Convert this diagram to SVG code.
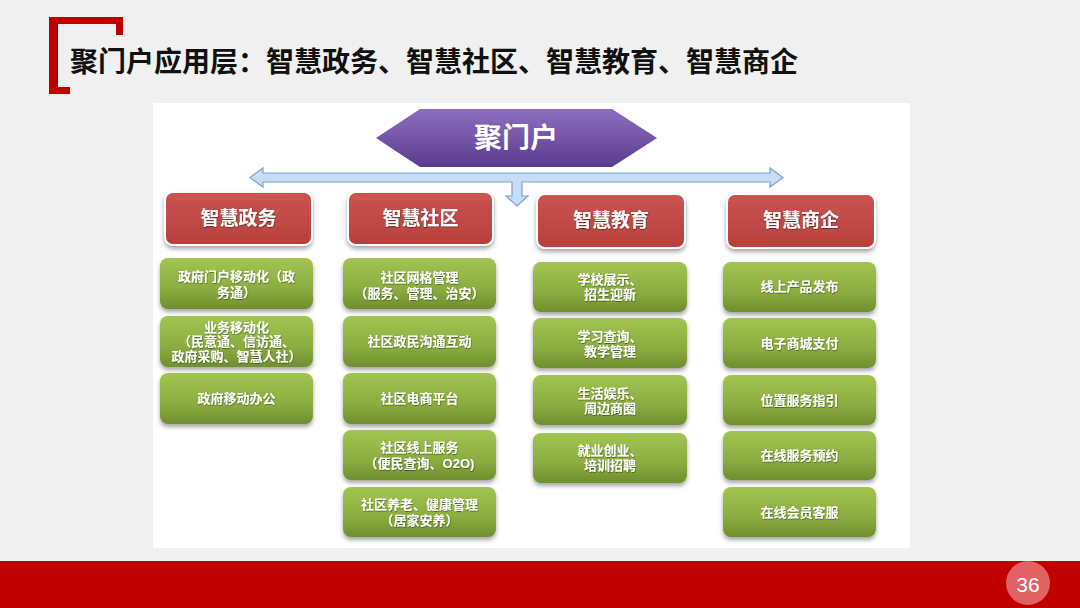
<svg xmlns="http://www.w3.org/2000/svg" width="1080" height="608" viewBox="0 0 1080 608">
<defs>
<linearGradient id="gRed" x1="0" y1="0" x2="0" y2="1"><stop offset="0" stop-color="#cb5450"/><stop offset="1" stop-color="#b73f3c"/></linearGradient>
<linearGradient id="gGreen" x1="0" y1="0" x2="0" y2="1"><stop offset="0" stop-color="#a2c452"/><stop offset="0.6" stop-color="#8bad40"/><stop offset="1" stop-color="#6f8e2e"/></linearGradient>
<linearGradient id="gPurple" x1="0" y1="0" x2="0" y2="1"><stop offset="0" stop-color="#8d6fc0"/><stop offset="1" stop-color="#5a3a8c"/></linearGradient>
<filter id="sh" x="-10%" y="-10%" width="120%" height="140%"><feDropShadow dx="0" dy="3" stdDeviation="2" flood-color="#000" flood-opacity="0.35"/></filter>
<filter id="ts" x="-5%" y="-20%" width="110%" height="150%"><feDropShadow dx="0.5" dy="0.8" stdDeviation="0.6" flood-color="#000" flood-opacity="0.45"/></filter>
</defs>
<style>
text{font-family:"Liberation Sans","Noto Sans CJK SC",sans-serif;text-anchor:middle;dominant-baseline:central;}
.title{font-size:28px;font-weight:bold;fill:#111;text-anchor:start;}
.red{fill:url(#gRed);stroke:#ffffff;stroke-width:2;filter:url(#sh);}
.grn{fill:url(#gGreen);filter:url(#sh);}
.rt{font-size:19px;font-weight:bold;fill:#fff;filter:url(#ts);}
.gt{font-size:13px;font-weight:bold;fill:#fff;filter:url(#ts);}
.ht{font-size:28px;font-weight:bold;fill:#fff;}
</style>
<rect x="0" y="0" width="1080" height="608" fill="#f0f0f0"/>
<rect x="153" y="103" width="757" height="445" fill="#ffffff"/>
<g id="header">
<path d="M49,17 H123 V35 H116 V24 H58 V87 H70 V94 H49 Z" fill="#c00000"/>
<text class="title" x="70" y="62">聚门户应用层：智慧政务、智慧社区、智慧教育、智慧商企</text>
</g>
<g id="footer">
<rect x="0" y="561" width="1080" height="47" fill="#c00000"/>
<circle cx="1028" cy="583" r="22" fill="#e06262"/>
<text x="1028" y="584" font-size="21" fill="#fff">36</text>
</g>
<g id="connectors">
<path d="M250,177.5 L263,168 L263,173 L770,173 L770,168 L783,177.5 L770,187 L770,182 L522,182 L522,196 L528,196 L517,206 L506,196 L512,196 L512,182 L263,182 L263,187 Z" fill="#c9dcf3" stroke="#7da2d6" stroke-width="1.2"/>
</g>
<g id="root">
<polygon points="376,138 420,109 612,109 657,138 612,167 420,167" fill="url(#gPurple)"/>
<text class="ht" x="516" y="138">聚门户</text>
</g>
<g id="cat-zhengwu"><rect class="red" x="165" y="192" width="147" height="53" rx="8"/><text class="rt" x="238.5" y="218">智慧政务</text></g>
<g id="cat-shequ"><rect class="red" x="348" y="192" width="145" height="53" rx="8"/><text class="rt" x="420.5" y="218">智慧社区</text></g>
<g id="cat-jiaoyu"><rect class="red" x="537" y="194" width="148" height="54" rx="8"/><text class="rt" x="611" y="220">智慧教育</text></g>
<g id="cat-shangqi"><rect class="red" x="727" y="194" width="148" height="54" rx="8"/><text class="rt" x="801" y="220">智慧商企</text></g>

<g id="zw1"><rect class="grn" x="160" y="258" width="153" height="51" rx="8"/><text class="gt" x="236.5" y="276">政府门户移动化（政</text><text class="gt" x="236.5" y="292">务通）</text></g>
<g id="zw2"><rect class="grn" x="160" y="316" width="153" height="51" rx="8"/><text class="gt" x="236.5" y="327">业务移动化</text><text class="gt" x="236.5" y="341.5">（民意通、信访通、</text><text class="gt" x="236.5" y="356">政府采购、智慧人社）</text></g>
<g id="zw3"><rect class="grn" x="160" y="373" width="153" height="51" rx="8"/><text class="gt" x="236.5" y="398">政府移动办公</text></g>

<g id="sq1"><rect class="grn" x="343" y="258" width="153" height="51" rx="8"/><text class="gt" x="419.5" y="277">社区网格管理</text><text class="gt" x="419.5" y="293">（服务、管理、治安）</text></g>
<g id="sq2"><rect class="grn" x="343" y="316" width="153" height="51" rx="8"/><text class="gt" x="419.5" y="341">社区政民沟通互动</text></g>
<g id="sq3"><rect class="grn" x="343" y="373" width="153" height="51" rx="8"/><text class="gt" x="419.5" y="398">社区电商平台</text></g>
<g id="sq4"><rect class="grn" x="343" y="430" width="153" height="50" rx="8"/><text class="gt" x="419.5" y="447">社区线上服务</text><text class="gt" x="419.5" y="463">（便民查询、O2O)</text></g>
<g id="sq5"><rect class="grn" x="343" y="487" width="153" height="50" rx="8"/><text class="gt" x="419.5" y="504">社区养老、健康管理</text><text class="gt" x="419.5" y="520">（居家安养）</text></g>

<g id="jy1"><rect class="grn" x="533" y="262" width="154" height="50" rx="8"/><text class="gt" x="610" y="279">学校展示、</text><text class="gt" x="610" y="294">招生迎新</text></g>
<g id="jy2"><rect class="grn" x="533" y="318" width="154" height="50" rx="8"/><text class="gt" x="610" y="336">学习查询、</text><text class="gt" x="610" y="351">教学管理</text></g>
<g id="jy3"><rect class="grn" x="533" y="375" width="154" height="50" rx="8"/><text class="gt" x="610" y="393">生活娱乐、</text><text class="gt" x="610" y="408">周边商圈</text></g>
<g id="jy4"><rect class="grn" x="533" y="433" width="154" height="50" rx="8"/><text class="gt" x="610" y="450">就业创业、</text><text class="gt" x="610" y="465">培训招聘</text></g>

<g id="sqi1"><rect class="grn" x="723" y="262" width="153" height="50" rx="8"/><text class="gt" x="799.5" y="286">线上产品发布</text></g>
<g id="sqi2"><rect class="grn" x="723" y="318" width="153" height="50" rx="8"/><text class="gt" x="799.5" y="343">电子商城支付</text></g>
<g id="sqi3"><rect class="grn" x="723" y="375" width="153" height="50" rx="8"/><text class="gt" x="799.5" y="400">位置服务指引</text></g>
<g id="sqi4"><rect class="grn" x="723" y="431" width="153" height="49" rx="8"/><text class="gt" x="799.5" y="455">在线服务预约</text></g>
<g id="sqi5"><rect class="grn" x="723" y="487" width="153" height="50" rx="8"/><text class="gt" x="799.5" y="512">在线会员客服</text></g>
</svg>
